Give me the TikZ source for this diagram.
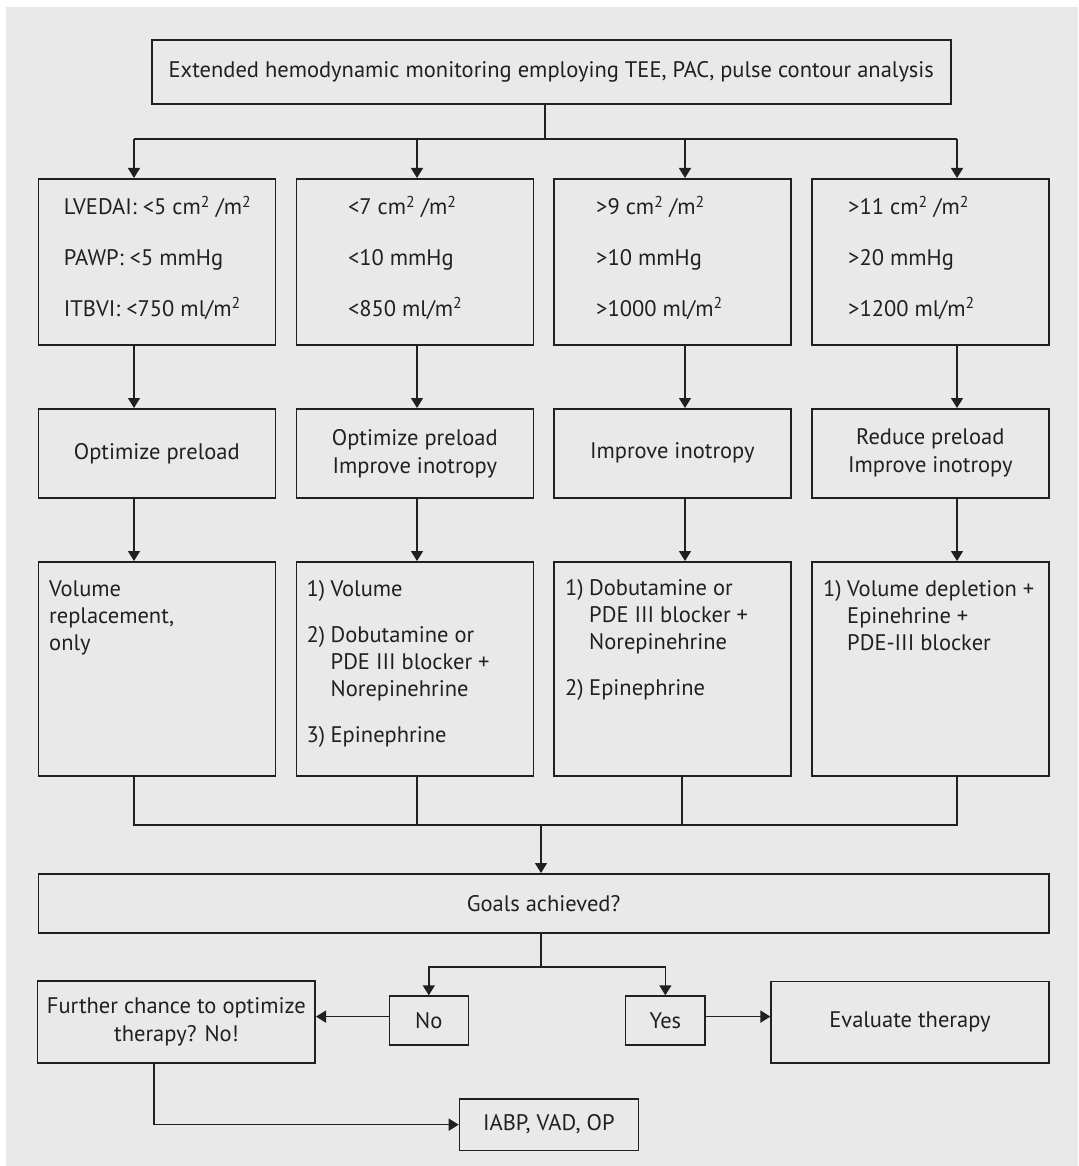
\documentclass[tikz,border=0pt]{standalone}
\usepackage{fontspec}
\setmainfont{PT Sans}
\usetikzlibrary{arrows.meta}
\definecolor{ink}{HTML}{231F20}
\definecolor{panel}{HTML}{E9E9E9}
\begin{document}
\begin{tikzpicture}[x=1pt,y=-1pt,
  box/.style={draw=ink, line width=1.6pt, rectangle, inner sep=0pt, anchor=north west,
    text=ink, align=center, font=\fontsize{22.5}{28}\selectfont},
  colbox/.style={box, minimum width=237pt},
  txt/.style={text=ink, inner sep=0pt, anchor=base west, align=left},
  crit/.style={txt, font=\fontsize{22.5}{50.5}\selectfont},
  ther/.style={txt, font=\fontsize{22.5}{27}\selectfont},
  conn/.style={draw=ink, line width=1.5pt},
  arr/.style={conn, -{Triangle[width=12pt,length=10pt]}},
]
\useasboundingbox (0,0) rectangle (1078,1166);
\fill[panel] (6,7) rectangle (1078,1166);

% monitoring
\node[box, minimum width=799pt, minimum height=64pt] (top) at (151,39)
  {Extended hemodynamic monitoring employing TEE, PAC, pulse contour analysis};

% haemodynamic criteria (text blocks are placed by their last baseline)
\node[colbox, minimum height=166pt] (r1a) at (37.5,178) {};
\node[colbox, minimum height=166pt] (r1b) at (295.5,178) {};
\node[colbox, minimum height=166pt] (r1c) at (553,178) {};
\node[colbox, minimum height=166pt] (r1d) at (811,178) {};
\node[crit] (t1a) at (63.7,316) {LVEDAI: <5 cm\textsuperscript{2} /m\textsuperscript{2}\\PAWP: <5 mmHg\\ITBVI: <750 ml/m\textsuperscript{2}};
\node[crit] (t1b) at (347.8,316) {<7 cm\textsuperscript{2} /m\textsuperscript{2}\\<10 mmHg\\<850 ml/m\textsuperscript{2}};
\node[crit] (t1c) at (596,316) {>9 cm\textsuperscript{2} /m\textsuperscript{2}\\>10 mmHg\\>1000 ml/m\textsuperscript{2}};
\node[crit] (t1d) at (848,316) {>11 cm\textsuperscript{2} /m\textsuperscript{2}\\>20 mmHg\\>1200 ml/m\textsuperscript{2}};

% goals of treatment
\node[colbox, minimum height=89pt] (r2a) at (37.5,408) {Optimize preload};
\node[colbox, minimum height=89pt] (r2b) at (295.5,408) {Optimize preload\\Improve inotropy};
\node[colbox, minimum height=89pt] (r2c) at (553,408) {Improve inotropy};
\node[colbox, minimum height=89pt] (r2d) at (811,408) {Reduce preload\\Improve inotropy};

% therapy
\node[colbox, minimum height=214pt] (r3a) at (37.5,561) {};
\node[colbox, minimum height=214pt] (r3b) at (295.5,561) {};
\node[colbox, minimum height=214pt] (r3c) at (553,561) {};
\node[colbox, minimum height=214pt] (r3d) at (811,561) {};
\node[ther] (t3a) at (49,650) {Volume\\replacement,\\only};
\node[ther] (t3b) at (306.5,742) {\makebox[24pt][l]{1)}Volume\\[19pt]
  \makebox[24pt][l]{2)}Dobutamine or\\\hspace*{24pt}PDE III blocker +\\\hspace*{24pt}Norepinehrine\\[19pt]
  \makebox[24pt][l]{3)}Epinephrine};
\node[ther] (t3c) at (565,695) {\makebox[24pt][l]{1)}Dobutamine or\\\hspace*{24pt}PDE III blocker +\\\hspace*{24pt}Norepinehrine\\[19pt]
  \makebox[24pt][l]{2)}Epinephrine};
\node[ther] (t3d) at (823,650) {\makebox[24pt][l]{1)}Volume depletion +\\\hspace*{24pt}Epinehrine +\\\hspace*{24pt}PDE-III blocker};

% decision
\node[box, minimum width=1010.5pt, minimum height=59pt] (goals) at (37.5,873) {Goals achieved?};
\node[box, minimum width=79pt, minimum height=49pt] (no) at (388.5,995.3) {No};
\node[box, minimum width=79.5pt, minimum height=49pt] (yes) at (624.8,995.3) {Yes};
\node[box, minimum width=277.6pt, minimum height=81.6pt] (eval) at (770.4,980.7) {Evaluate therapy};
\node[box, minimum width=277.6pt, minimum height=82pt] (further) at (36.8,980.3) {Further chance to optimize\\therapy? No!};
\node[box, minimum width=178.8pt, minimum height=51.7pt] (iabp) at (458.7,1098) {IABP, VAD, OP};

% distribution to the four columns
\coordinate (split) at (545,139);
\coordinate (ax1) at (134,139);
\coordinate (ax2) at (417,139);
\coordinate (ax3) at (685,139);
\coordinate (ax4) at (957,139);
\draw[conn] (split |- top.south) -- (split);
\draw[conn] (ax1) -- (ax4);
\draw[arr] (ax1) -- (ax1 |- r1a.north);
\draw[arr] (ax2) -- (ax2 |- r1b.north);
\draw[arr] (ax3) -- (ax3 |- r1c.north);
\draw[arr] (ax4) -- (ax4 |- r1d.north);
\draw[arr] (ax1 |- r1a.south) -- (ax1 |- r2a.north);
\draw[arr] (ax2 |- r1b.south) -- (ax2 |- r2b.north);
\draw[arr] (ax3 |- r1c.south) -- (ax3 |- r2c.north);
\draw[arr] (ax4 |- r1d.south) -- (ax4 |- r2d.north);
\draw[arr] (ax1 |- r2a.south) -- (ax1 |- r3a.north);
\draw[arr] (ax2 |- r2b.south) -- (ax2 |- r3b.north);
\draw[arr] (ax3 |- r2c.south) -- (ax3 |- r3c.north);
\draw[arr] (ax4 |- r2d.south) -- (ax4 |- r3d.north);

% collecting line
\coordinate (m1) at (134,825);
\coordinate (m2) at (417,825);
\coordinate (m3) at (682,825);
\coordinate (m4) at (957,825);
\coordinate (mg) at (541,825);
\draw[conn] (m1 |- r3a.south) -- (m1) -- (m4) -- (m4 |- r3d.south);
\draw[conn] (m2 |- r3b.south) -- (m2);
\draw[conn] (m3 |- r3c.south) -- (m3);
\draw[arr] (mg) -- (mg |- goals.north);

% outcome branches
\coordinate (gs) at (541,967);
\draw[conn] (gs |- goals.south) -- (gs);
\draw[arr] (gs) -| (no.north);
\draw[arr] (gs) -| (yes.north);
\draw[arr] ([yshift=4pt]no.west) -- ([yshift=4pt]no.west -| further.east);
\draw[arr] ([yshift=4pt]yes.east) -- ([yshift=4pt]yes.east -| eval.west);
\coordinate (fd) at (154,1124);
\draw[arr] (fd |- further.south) -- (fd |- iabp.west) -- (iabp.west);
\end{tikzpicture}
\end{document}
